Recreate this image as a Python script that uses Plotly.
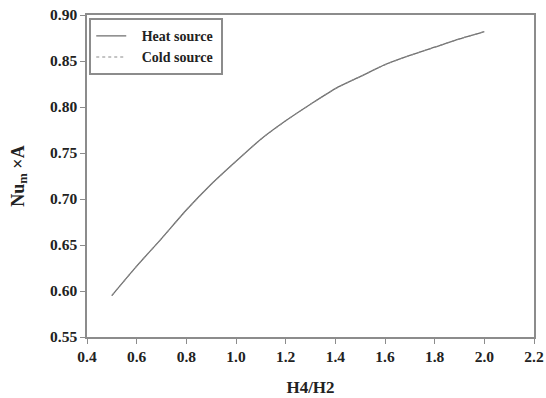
import plotly.graph_objects as go

ratio = [0.5, 0.6, 0.7, 0.8, 0.9, 1.0, 1.1, 1.2, 1.3, 1.4, 1.5, 1.6, 1.7, 1.8, 1.9, 2.0]
heat_source = [0.595, 0.627, 0.657, 0.688, 0.716, 0.741, 0.765, 0.785, 0.803, 0.820,
               0.833, 0.846, 0.856, 0.865, 0.874, 0.882]
cold_source = [0.595, 0.627, 0.657, 0.688, 0.716, 0.741, 0.765, 0.785, 0.803, 0.820,
               0.833, 0.846, 0.856, 0.865, 0.874, 0.882]

x_ticks = [0.4, 0.6, 0.8, 1.0, 1.2, 1.4, 1.6, 1.8, 2.0, 2.2]
y_ticks = [0.55, 0.60, 0.65, 0.70, 0.75, 0.80, 0.85, 0.90]

FONT = "Liberation Serif, Times New Roman, serif"

fig = go.Figure()
fig.add_trace(go.Scatter(x=ratio, y=heat_source, mode="lines",
                         name="\u00a0\u00a0\u00a0<b>Heat source</b>\u00a0",
                         line=dict(color="#6e6e6e", width=1.3, shape="spline", smoothing=0.6)))
fig.add_trace(go.Scatter(x=ratio, y=cold_source, mode="lines",
                         name="\u00a0\u00a0\u00a0<b>Cold source</b>\u00a0",
                         line=dict(color="#8a8a8a", width=1.1, dash="dot", shape="spline",
                                   smoothing=0.6)))

axis_common = dict(showline=True, linecolor="#8c8c8c", linewidth=1.5, mirror=True,
                   ticks="outside", ticklen=5, tickcolor="#8c8c8c", showgrid=False,
                   zeroline=False, automargin=False,
                   tickfont=dict(family=FONT, size=15.5, color="#222"))

fig.update_xaxes(range=[0.4, 2.2], tickvals=x_ticks,
                 ticktext=[f"<b>{v:.1f}</b>" for v in x_ticks],
                 title=dict(text="<b>H4/H2</b>", font=dict(family=FONT, size=17, color="#222"),
                            standoff=17),
                 **axis_common)
fig.update_yaxes(range=[0.55, 0.90], tickvals=y_ticks,
                 ticktext=[f"<b>{v:.2f}</b>" for v in y_ticks],
                 title=dict(text="<b>Nu<sub>m</sub> ×A</b>", font=dict(family=FONT, size=18, color="#222"),
                            standoff=21),
                 **axis_common)

fig.update_layout(
    width=546, height=398,
    margin=dict(l=87, r=12, t=15, b=61),
    plot_bgcolor="white", paper_bgcolor="white",
    font=dict(family=FONT, color="#222"),
    legend=dict(x=0.005, y=0.99, xanchor="left", yanchor="top",
                bgcolor="white", bordercolor="#8c8c8c", borderwidth=2,
                font=dict(family=FONT, size=14, color="#222"),
                itemwidth=30, tracegroupgap=0),
    showlegend=True,
)

fig.write_html("out.html")
